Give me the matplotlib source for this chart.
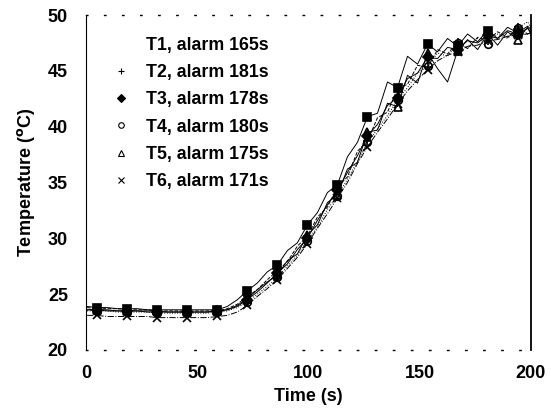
import matplotlib
matplotlib.use("Agg")
import matplotlib.pyplot as plt
from matplotlib.lines import Line2D

plt.rcParams['font.family'] = ['Liberation Sans', 'DejaVu Sans']
plt.rcParams['font.weight'] = 'bold'

# time axis (s)
t = [0.5, 5, 9.5, 14, 18.5, 23, 27.5, 32, 36.5, 41, 45.5, 50, 54.5, 59,
     63.5, 68, 72.5, 77, 81.5, 86, 90.5, 95, 99.5, 104, 108.5, 113, 117.5,
     122, 126.5, 131, 135.5, 140, 144.5, 149, 153.5, 158, 162.5, 167, 171.5,
     176, 180.5, 185, 189.5, 194, 198.5, 200]

# temperatures (degC)
T1 = [23.9, 23.8, 23.8, 23.7, 23.7, 23.7, 23.6, 23.6, 23.6, 23.6, 23.6, 23.6, 23.6, 23.6,
      23.9, 24.5, 25.3, 26.0, 27.0, 27.6, 28.9, 29.6, 31.2, 32.3, 34.1, 34.8, 37.3, 38.6,
      40.9, 41.2, 44.0, 43.5, 46.3, 45.6, 47.4, 46.7, 47.9, 47.2, 48.3, 47.6, 48.6, 47.9,
      48.9, 48.4, 49.0, 48.7]
T2 = [23.8, 23.7, 23.7, 23.7, 23.6, 23.6, 23.6, 23.5, 23.5, 23.5, 23.5, 23.5, 23.5, 23.5,
      23.7, 24.1, 24.8, 25.4, 26.3, 27.1, 27.9, 29.3, 30.2, 31.9, 32.8, 34.6, 35.5, 37.8,
      38.7, 40.8, 41.3, 43.4, 43.8, 45.5, 45.3, 46.9, 46.5, 47.6, 47.0, 48.0, 47.7, 48.5,
      48.0, 48.9, 48.3, 48.5]
T3 = [23.6, 23.6, 23.5, 23.5, 23.5, 23.5, 23.4, 23.4, 23.4, 23.4, 23.4, 23.4, 23.4, 23.5,
      23.6, 23.9, 24.5, 25.2, 26.0, 26.9, 27.7, 29.0, 30.0, 31.6, 33.0, 34.3, 35.9, 37.4,
      39.2, 40.2, 41.9, 42.6, 44.3, 44.8, 46.2, 46.1, 47.1, 46.9, 47.7, 47.5, 48.2, 47.9,
      48.6, 48.3, 48.8, 48.5]
T4 = [23.5, 23.5, 23.5, 23.4, 23.4, 23.4, 23.4, 23.3, 23.3, 23.3, 23.3, 23.3, 23.3, 23.4,
      23.5, 23.8, 24.3, 25.0, 25.7, 26.5, 27.5, 28.5, 29.8, 31.0, 32.6, 33.8, 35.3, 36.9,
      38.6, 39.8, 41.0, 42.4, 43.5, 44.8, 45.4, 46.6, 46.3, 47.5, 47.0, 47.9, 47.4, 48.3,
      47.9, 48.8, 49.4, 48.8]
T5 = [23.6, 23.6, 23.6, 23.5, 23.5, 23.5, 23.5, 23.5, 23.4, 23.4, 23.4, 23.4, 23.4, 23.5,
      23.6, 24.0, 24.6, 25.4, 26.1, 26.7, 28.0, 28.6, 30.3, 31.2, 33.2, 33.9, 36.2, 36.8,
      39.5, 39.7, 42.1, 41.8, 44.6, 43.9, 46.6, 45.2, 44.0, 46.8, 47.8, 46.9, 48.3, 47.3,
      48.5, 47.8, 48.9, 48.2]
T6 = [23.1, 23.1, 23.0, 23.0, 23.0, 23.0, 23.0, 22.9, 22.9, 22.9, 22.9, 22.9, 22.9, 23.0,
      23.1, 23.4, 24.0, 24.8, 25.5, 26.3, 27.3, 28.3, 29.5, 30.9, 32.2, 33.6, 35.0, 36.7,
      38.2, 39.5, 40.7, 42.0, 43.2, 44.2, 45.1, 45.9, 46.4, 46.7, 47.2, 47.3, 47.7, 47.8,
      48.1, 48.2, 48.3, 48.4]

labels = ["T1, alarm 165s", "T2, alarm 181s", "T3, alarm 178s",
          "T4, alarm 180s", "T5, alarm 175s", "T6, alarm 171s"]
series = [T1, T2, T3, T4, T5, T6]
markers = ['s', '+', 'D', 'o', '^', 'x']
fills = ['k', 'k', 'k', 'none', 'none', 'k']
styles = ['-', '--', '-', ':', '-', '-.']

fig = plt.figure(figsize=(5.51, 4.17), dpi=100)
ax = fig.add_axes([86 / 551, 1 - 350 / 417, 445 / 551, 335 / 417])

for y, m, fc, ls in zip(series, markers, fills, styles):
    ax.plot(t, y, color='k', lw=0.7, ls=ls, marker=m, markersize=5.5,
            markerfacecolor=fc, markeredgecolor='k', markeredgewidth=1.2,
            markevery=(1, 3))

# legend: T1 shows no symbol in the original
handles = [Line2D([], [], ls='none', marker=None)]
for m, fc in zip(markers[1:], fills[1:]):
    handles.append(Line2D([], [], ls='none', marker=m, markersize=4,
                          markerfacecolor=fc, markeredgecolor='k', markeredgewidth=0.8))
ax.legend(handles, labels, loc='upper left', bbox_to_anchor=(0.06, 0.935),
          frameon=False, fontsize=12.8, handlelength=0.9, handletextpad=1.0,
          labelspacing=0.58, borderpad=0, borderaxespad=0)

ax.set_xlim(0, 200)
ax.set_ylim(20, 50)
ax.set_xticks([0, 50, 100, 150, 200])
ax.set_yticks([20, 25, 30, 35, 40, 45, 50])
ax.tick_params(length=0, labelsize=13, pad=11)
ax.tick_params(axis='y', pad=13)
ax.set_xlabel("Time (s)", fontsize=13, fontweight='bold', labelpad=4)
ax.set_ylabel("Temperature ($^\\mathrm{o}$C)", fontsize=13, fontweight='bold', labelpad=8)

ax.spines['left'].set_linewidth(0.8)
ax.spines['right'].set_linewidth(1.3)
ax.spines['right'].set_linestyle((0, (4, 1)))
for s in ['top', 'bottom']:
    ax.spines[s].set_linewidth(1.0)
    ax.spines[s].set_linestyle((0, (1, 12)))

fig.savefig("out.png", dpi=100)
